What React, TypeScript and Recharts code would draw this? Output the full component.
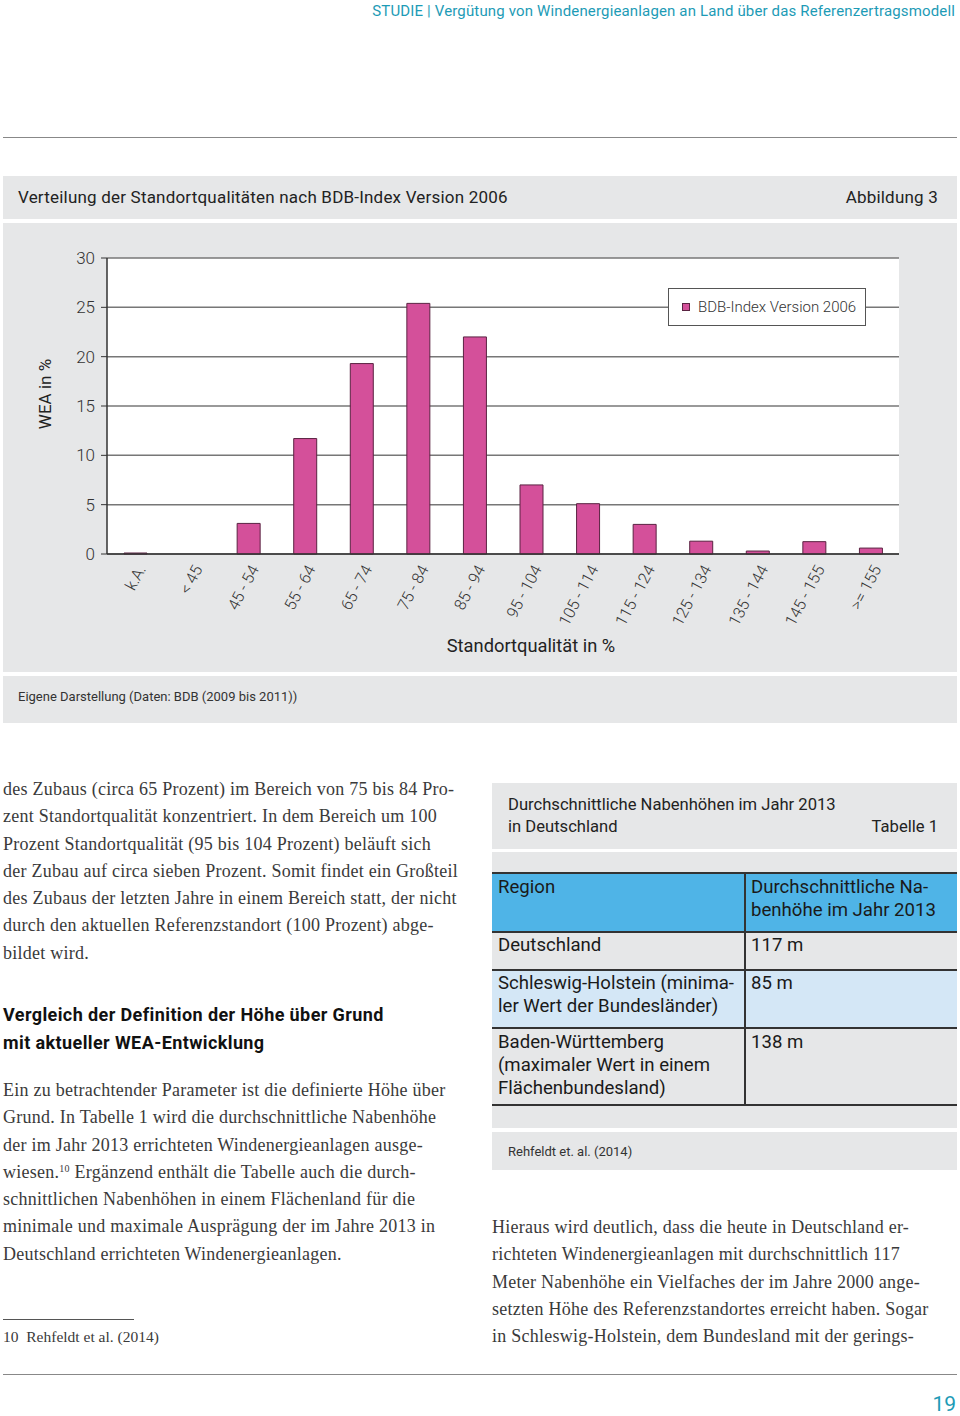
import React from "react";
import { BarChart, Bar, XAxis, YAxis, CartesianGrid } from "recharts";

// Standortqualität classes (BDB-Index Version 2006)
const categories = [
  "k.A.",
  "< 45",
  "45 - 54",
  "55 - 64",
  "65 - 74",
  "75 - 84",
  "85 - 94",
  "95 - 104",
  "105 - 114",
  "115 - 124",
  "125 - 134",
  "135 - 144",
  "145 - 155",
  ">= 155",
];
const weaShare = [0.1, 0, 3.1, 11.7, 19.3, 25.4, 22.0, 7.0, 5.1, 3.0, 1.3, 0.3, 1.25, 0.6];
const yTicks = [0, 5, 10, 15, 20, 25, 30];
const seriesName = "BDB-Index Version 2006";

const data = categories.map((c, i) => ({ cat: c, wea: weaShare[i] }));

const GRAY = "#e6e7e8";
const PINK = "#d4509a";
const PINK_EDGE = "#5a2342";
const TEAL = "#1d9bb6";
const SANS = "Roboto, 'Noto Sans', sans-serif";
const SERIF = "'Liberation Serif', 'DejaVu Serif', serif";

const XTick = (props: any) => {
  const { x, y, payload } = props;
  const ax = x + 11;
  const ay = y + 7;
  return (
    <text
      x={ax}
      y={ay}
      textAnchor="end"
      transform={`rotate(-62 ${ax} ${ay})`}
      fontSize={16}
      fontWeight={300}
      fill="#333"
      fontFamily={SANS}
    >
      {payload.value}
    </text>
  );
};

// legend drawn as an overlay box inside the plot, like in the original
const LegendBox = () => (
  <div
    style={{
      position: "absolute",
      left: 665,
      top: 65,
      width: 196,
      height: 36,
      background: "#fff",
      border: "1px solid #555",
      display: "flex",
      alignItems: "center",
      fontFamily: SANS,
      fontSize: 15,
      fontWeight: 300,
      color: "#333",
    }}
  >
    <span
      style={{
        display: "inline-block",
        width: 6,
        height: 6,
        background: PINK,
        border: `1px solid ${PINK_EDGE}`,
        marginLeft: 13,
        marginRight: 8,
      }}
    />
    {seriesName}
  </div>
);

const abs = (left: number, top: number, extra: React.CSSProperties = {}): React.CSSProperties => ({
  position: "absolute",
  left,
  top,
  ...extra,
});

const Lines = ({
  lines,
  left,
  top,
  lh,
  style,
}: {
  lines: React.ReactNode[];
  left: number;
  top: number;
  lh: number;
  style: React.CSSProperties;
}) => (
  <div style={abs(left, top, { lineHeight: `${lh}px`, whiteSpace: "nowrap", ...style })}>
    {lines.map((l, i) => (
      <div key={i}>{l}</div>
    ))}
  </div>
);

const bodyStyle: React.CSSProperties = {
  fontFamily: SERIF,
  fontSize: 18,
  letterSpacing: 0.25,
  color: "#3a3a3a",
};
const tblStyle: React.CSSProperties = { fontFamily: SANS, fontSize: 18.6, color: "#1a1a1a" };

export default function App() {
  return (
    <div style={abs(0, 0, { width: 960, height: 1416, background: "#fff", overflow: "hidden" })}>
      {/* running head */}
      <div
        style={abs(0, 2, {
          width: 955,
          textAlign: "right",
          fontFamily: SANS,
          fontSize: 15,
          color: TEAL,
          letterSpacing: 0.15,
        })}
      >
        STUDIE | Vergütung von Windenergieanlagen an Land über das Referenzertragsmodell
      </div>
      <div style={abs(3, 137, { width: 954, height: 0, borderTop: "1.5px solid #888" })} />

      {/* figure title bar */}
      <div style={abs(3, 176, { width: 954, height: 43, background: GRAY, fontFamily: SANS, fontSize: 17, color: "#222", letterSpacing: 0.2 })}>
        <div style={abs(15, 11)}>Verteilung der Standortqualitäten nach BDB-Index Version 2006</div>
        <div style={abs(0, 11, { width: 935, textAlign: "right" })}>Abbildung 3</div>
      </div>

      {/* chart */}
      <div style={abs(3, 223, { width: 954, height: 449, background: GRAY })}>
        <BarChart
          width={954}
          height={449}
          data={data}
          margin={{ top: 35, right: 58, bottom: 0, left: 0 }}
          barSize={23}
        >
          <CartesianGrid horizontal vertical={false} stroke="#777" strokeWidth={1.5} fill="#fff" />
          <XAxis
            dataKey="cat"
            height={118}
            tickLine={false}
            axisLine={{ stroke: "#333", strokeWidth: 1.5 }}
            interval={0}
            tick={<XTick />}
            label={{
              content: (p: any) => {
                const vb = p.viewBox;
                return (
                  <text
                    x={vb.x + vb.width / 2 + 28}
                    y={vb.y + 98}
                    textAnchor="middle"
                    fontSize={18.3}
                    fill="#222"
                    fontFamily={SANS}
                  >
                    Standortqualität in %
                  </text>
                );
              },
            }}
          />
          <YAxis
            width={104}
            domain={[0, 30]}
            ticks={yTicks}
            tickSize={6}
            tickMargin={6}
            tickLine={{ stroke: "#333" }}
            axisLine={{ stroke: "#333", strokeWidth: 1.5 }}
            tick={{ fontSize: 17, fontWeight: 300, fill: "#333", fontFamily: SANS }}
            label={{
              content: (p: any) => {
                const vb = p.viewBox;
                const cx = vb.x + 42;
                const cy = vb.y + vb.height / 2 - 12;
                return (
                  <text
                    x={cx}
                    y={cy}
                    textAnchor="middle"
                    dominantBaseline="central"
                    transform={`rotate(-90 ${cx} ${cy})`}
                    fontSize={17}
                    fill="#222"
                    fontFamily={SANS}
                  >
                    WEA in %
                  </text>
                );
              },
            }}
          />
          <YAxis
            yAxisId="frame"
            orientation="right"
            width={0}
            tick={false}
            tickLine={false}
            axisLine={{ stroke: "#555", strokeWidth: 1.5 }}
          />
          <Bar
            dataKey="wea"
            name={seriesName}
            fill={PINK}
            stroke={PINK_EDGE}
            strokeWidth={1}
            isAnimationActive={false}
          />
        </BarChart>
        <LegendBox />
      </div>

      {/* source bar */}
      <div style={abs(3, 676, { width: 954, height: 47, background: GRAY, fontFamily: SANS, fontSize: 13, color: "#333" })}>
        <div style={abs(15, 13)}>Eigene Darstellung (Daten: BDB (2009 bis 2011))</div>
      </div>

      {/* left column text */}
      <Lines
        left={3}
        top={776}
        lh={27.3}
        style={bodyStyle}
        lines={[
          "des Zubaus (circa 65 Prozent) im Bereich von 75 bis 84 Pro-",
          "zent Standortqualität konzentriert. In dem Bereich um 100",
          "Prozent Standortqualität (95 bis 104 Prozent) beläuft sich",
          "der Zubau auf circa sieben Prozent. Somit findet ein Großteil",
          "des Zubaus der letzten Jahre in einem Bereich statt, der nicht",
          "durch den aktuellen Referenzstandort (100 Prozent) abge-",
          "bildet wird.",
        ]}
      />
      <Lines
        left={3}
        top={1001}
        lh={28}
        style={{ fontFamily: SANS, fontSize: 18, fontWeight: 700, color: "#111", letterSpacing: 0.4 }}
        lines={["Vergleich der Definition der Höhe über Grund", "mit aktueller WEA-Entwicklung"]}
      />
      <Lines
        left={3}
        top={1077}
        lh={27.3}
        style={bodyStyle}
        lines={[
          "Ein zu betrachtender Parameter ist die definierte Höhe über",
          "Grund. In Tabelle 1 wird die durchschnittliche Nabenhöhe",
          "der im Jahr 2013 errichteten Windenergieanlagen ausge-",
          <>
            wiesen.<sup style={{ fontSize: 10, verticalAlign: 6, lineHeight: 0 }}>10</sup> Ergänzend enthält die Tabelle auch die durch-
          </>,
          "schnittlichen Nabenhöhen in einem Flächenland für die",
          "minimale und maximale Ausprägung der im Jahre 2013 in",
          "Deutschland errichteten Windenergieanlagen.",
        ]}
      />
      <div style={abs(3, 1319, { width: 131, borderTop: "1px solid #555" })} />
      <div style={abs(3, 1328, { fontFamily: SERIF, fontSize: 15.5, color: "#3a3a3a", whiteSpace: "pre" })}>
        {"10  Rehfeldt et al. (2014)"}
      </div>

      {/* table 1 */}
      <div style={abs(492, 783, { width: 465, height: 66, background: GRAY, fontFamily: SANS, fontSize: 16.6, color: "#222" })}>
        <div style={abs(16, 11, { lineHeight: "22px" })}>
          Durchschnittliche Nabenhöhen im Jahr 2013
          <br />
          in Deutschland
        </div>
        <div style={abs(0, 33, { width: 446, textAlign: "right", lineHeight: "22px" })}>Tabelle 1</div>
      </div>
      <div style={abs(492, 852, { width: 465, height: 276, background: GRAY })} />
      <div style={abs(492, 873, { width: 465, height: 59, background: "#4fb4e7" })} />
      <div style={abs(492, 970, { width: 465, height: 58, background: "#d4e7f6" })} />
      {[873, 932, 970, 1028, 1105].map((t) => (
        <div key={t} style={abs(492, t - 1, { width: 465, height: 0, borderTop: "2px solid #333" })} />
      ))}
      <div style={abs(744, 873, { width: 0, height: 232, borderLeft: "2px solid #333" })} />
      <Lines left={498} top={876} lh={23} style={tblStyle} lines={["Region"]} />
      <Lines left={751} top={876} lh={23} style={tblStyle} lines={["Durchschnittliche Na-", "benhöhe im Jahr 2013"]} />
      <Lines left={498} top={934} lh={23} style={tblStyle} lines={["Deutschland"]} />
      <Lines left={751} top={934} lh={23} style={tblStyle} lines={["117 m"]} />
      <Lines left={498} top={972} lh={23} style={tblStyle} lines={["Schleswig-Holstein (minima-", "ler Wert der Bundesländer)"]} />
      <Lines left={751} top={972} lh={23} style={tblStyle} lines={["85 m"]} />
      <Lines
        left={498}
        top={1031}
        lh={23}
        style={tblStyle}
        lines={["Baden-Württemberg", "(maximaler Wert in einem", "Flächenbundesland)"]}
      />
      <Lines left={751} top={1031} lh={23} style={tblStyle} lines={["138 m"]} />
      <div style={abs(492, 1132, { width: 465, height: 38, background: GRAY, fontFamily: SANS, fontSize: 13, color: "#333" })}>
        <div style={abs(16, 12)}>Rehfeldt et. al. (2014)</div>
      </div>

      {/* right column text */}
      <Lines
        left={492}
        top={1214}
        lh={27.3}
        style={bodyStyle}
        lines={[
          "Hieraus wird deutlich, dass die heute in Deutschland er-",
          "richteten Windenergieanlagen mit durchschnittlich 117",
          "Meter Nabenhöhe ein Vielfaches der im Jahre 2000 ange-",
          "setzten Höhe des Referenzstandortes erreicht haben. Sogar",
          "in Schleswig-Holstein, dem Bundesland mit der gerings-",
        ]}
      />

      {/* foot */}
      <div style={abs(3, 1374, { width: 954, height: 0, borderTop: "1.5px solid #888" })} />
      <div style={abs(0, 1392, { width: 956, textAlign: "right", fontFamily: SANS, fontSize: 21, color: TEAL })}>19</div>
    </div>
  );
}
